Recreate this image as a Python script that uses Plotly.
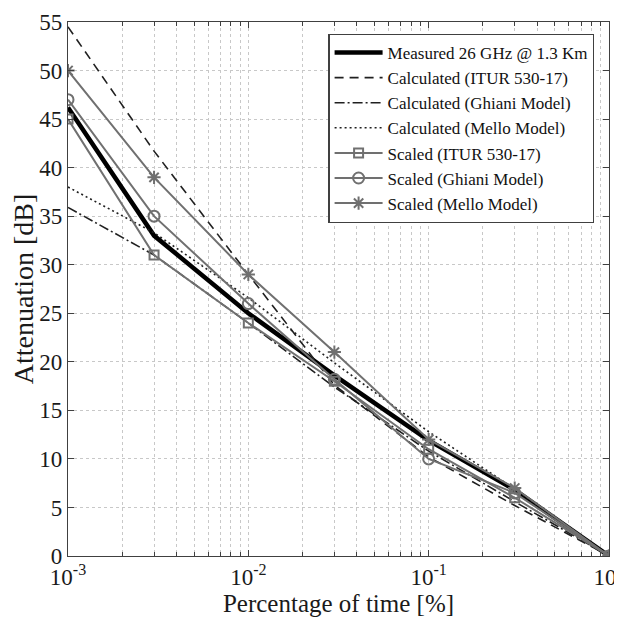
import plotly.graph_objects as go

# Percentage of time [%]
pct = [0.001, 0.003, 0.01, 0.03, 0.1, 0.3, 1.0]

measured = [46.2, 33.0, 25.0, 18.6, 11.9, 6.8, 0.0]
calc_itur = [54.5, 41.7, 29.0, 17.6, 10.2, 5.2, 0.0]
calc_ghiani = [35.9, 31.0, 24.0, 17.4, 10.8, 5.6, 0.0]
calc_mello = [38.0, 33.3, 26.6, 19.9, 12.8, 6.9, 0.0]
scaled_itur = [45.0, 31.0, 24.0, 18.0, 11.0, 6.0, 0.0]
scaled_ghiani = [47.0, 35.0, 26.0, 18.2, 10.0, 6.5, 0.0]
scaled_mello = [50.0, 39.0, 29.0, 21.0, 12.0, 7.0, 0.0]

x_tickvals = [0.001, 0.01, 0.1, 1]
x_ticktext = ["10<sup>-3</sup>", "10<sup>-2</sup>", "10<sup>-1</sup>", "10<sup>0</sup>"]
y_tickvals = list(range(0, 56, 5))

FONT = "Liberation Serif"
GRAY = "#707070"
TXT = "#1a1a1a"

fig = go.Figure()
fig.add_trace(go.Scatter(x=pct, y=measured, mode="lines", name="Measured 26 GHz @ 1.3 Km",
                         line=dict(color="black", width=4.5)))
fig.add_trace(go.Scatter(x=pct, y=calc_itur, mode="lines", name="Calculated (ITUR 530-17)",
                         line=dict(color="#202020", width=1.6, dash="9px,6px")))
fig.add_trace(go.Scatter(x=pct, y=calc_ghiani, mode="lines", name="Calculated (Ghiani Model)",
                         line=dict(color="#202020", width=1.6, dash="10px,3px,2px,3px")))
fig.add_trace(go.Scatter(x=pct, y=calc_mello, mode="lines", name="Calculated (Mello Model)",
                         line=dict(color="#202020", width=1.6, dash="2px,3px")))
fig.add_trace(go.Scatter(x=pct, y=scaled_itur, mode="lines+markers", name="Scaled (ITUR 530-17)",
                         line=dict(color=GRAY, width=2),
                         marker=dict(symbol="square-open", size=9, color=GRAY, line=dict(width=2))))
fig.add_trace(go.Scatter(x=pct, y=scaled_ghiani, mode="lines+markers", name="Scaled (Ghiani Model)",
                         line=dict(color=GRAY, width=2),
                         marker=dict(symbol="circle-open", size=11, color=GRAY, line=dict(width=2))))
fig.add_trace(go.Scatter(x=pct, y=scaled_mello, mode="lines+markers", name="Scaled (Mello Model)",
                         line=dict(color=GRAY, width=2),
                         marker=dict(symbol="asterisk-open", size=11, color=GRAY, line=dict(width=2, color=GRAY))))

axis_common = dict(
    showline=True, linecolor="#404040", linewidth=1.2, mirror="ticks",
    ticks="inside", ticklen=6, tickcolor="#404040",
    showgrid=True, gridcolor="#c8c8c8", griddash="dot", gridwidth=1,
    zeroline=False, automargin=False, ticklabeloverflow="allow",
    tickfont=dict(family=FONT, size=23, color=TXT),
)

fig.update_xaxes(type="log", range=[-3, 0], tickvals=x_tickvals, ticktext=x_ticktext,
                 title=dict(text="Percentage of time [%]", font=dict(family=FONT, size=25, color=TXT), standoff=2),
                 minor=dict(showgrid=True, gridcolor="#c8c8c8", griddash="dot", ticks="inside", ticklen=4,
                            tickcolor="#404040", dtick="D1"),
                 **axis_common)
fig.update_yaxes(range=[0, 55], tickvals=y_tickvals,
                 title=dict(text="Attenuation [dB]", font=dict(family=FONT, size=28, color=TXT), standoff=2),
                 **axis_common)

fig.update_layout(
    width=614, height=613,
    margin=dict(l=60, r=13, t=14, b=65),
    paper_bgcolor="white", plot_bgcolor="white",
    font=dict(family=FONT, color=TXT),
    legend=dict(x=0.973, xanchor="right", y=0.978, yanchor="top",
                bgcolor="white", bordercolor="#404040", borderwidth=1.2,
                font=dict(family=FONT, size=17, color="#111"),
                tracegroupgap=0, itemwidth=48),
    showlegend=True,
)

fig.write_html("out.html")
